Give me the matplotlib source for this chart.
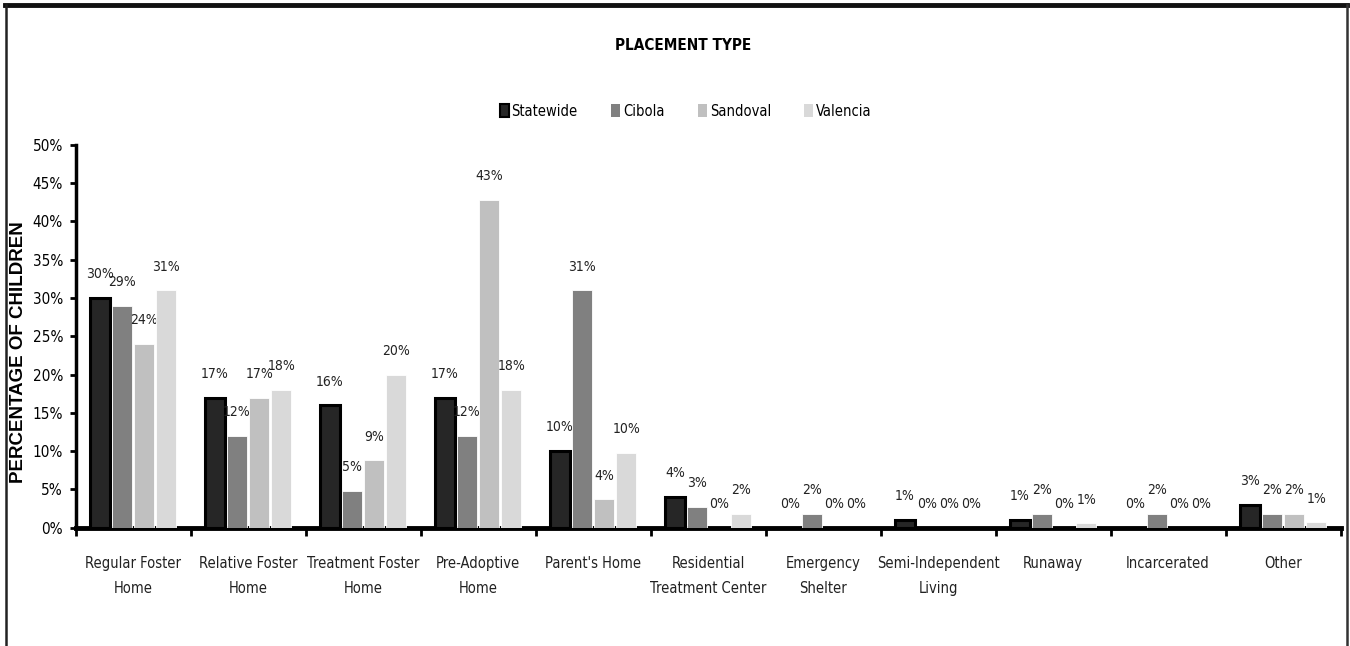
import numpy as np
import matplotlib
matplotlib.use('Agg')
import matplotlib.pyplot as plt
from matplotlib.lines import Line2D
from matplotlib.patches import Patch

plt.rcParams['font.family'] = ['DejaVu Sans']
plt.rcParams['font.stretch'] = 'condensed'

# 数据
categories = ['Regular Foster\nHome', 'Relative Foster\nHome', 'Treatment Foster\nHome',
              'Pre-Adoptive\nHome', "Parent's Home", 'Residential\nTreatment Center',
              'Emergency\nShelter', 'Semi-Independent\nLiving', 'Runaway',
              'Incarcerated', 'Other']
series = ['Statewide', 'Cibola', 'Sandoval', 'Valencia']
statewide = [30, 17, 16, 17, 10, 4, 0, 1, 1, 0, 3]
cibola = [29, 12, 4.8, 12, 31, 2.7, 1.8, 0, 1.8, 1.8, 1.8]
sandoval = [24, 17, 8.8, 42.8, 3.7, 0, 0, 0, 0, 0, 1.8]
valencia = [31, 18, 20, 18, 9.8, 1.8, 0, 0, 0.6, 0, 0.7]
labels = [
    ['30%', '17%', '16%', '17%', '10%', '4%', '0%', '1%', '1%', '0%', '3%'],
    ['29%', '12%', '5%', '12%', '31%', '3%', '2%', '0%', '2%', '2%', '2%'],
    ['24%', '17%', '9%', '43%', '4%', '0%', '0%', '0%', '0%', '0%', '2%'],
    ['31%', '18%', '20%', '18%', '10%', '2%', '0%', '0%', '1%', '0%', '1%'],
]
colors = ['#262626', '#808080', '#c0c0c0', '#d9d9d9']

fig = plt.figure(figsize=(13.5, 6.46), dpi=100)
ax = fig.add_axes([0.056, 0.183, 0.937, 0.593])

x = np.arange(len(categories))
w = 0.172
step = 0.193
data = [statewide, cibola, sandoval, valencia]
for i, vals in enumerate(data):
    pos = x + (i - 1.5) * step
    if i == 0:
        bars = ax.bar(pos, vals, w, color=colors[i], edgecolor='black', linewidth=2.2, zorder=3)
    else:
        bars = ax.bar(pos, vals, w, color=colors[i], edgecolor='white', linewidth=0.6, zorder=3)
    for b, lab in zip(bars, labels[i]):
        ax.annotate(lab, (b.get_x() + b.get_width() / 2, b.get_height()),
                    xytext=(0, 12), textcoords='offset points',
                    ha='center', va='bottom', fontsize=10, color='#222222')

ax.set_xlim(-0.5, len(categories) - 0.5)
ax.set_ylim(0, 50)
ax.set_yticks(np.arange(0, 51, 5))
ax.set_yticklabels([f'{v}%' for v in range(0, 51, 5)], fontsize=11)
ax.set_xticks(x)
ax.set_xticklabels(categories, fontsize=10.5, linespacing=1.9, color='#222222')
ax.set_xticks(np.arange(-0.5, len(categories), 1), minor=True)
ax.tick_params(axis='x', which='major', length=0, pad=20)
ax.tick_params(axis='x', which='minor', length=6, width=2, direction='out')
ax.tick_params(axis='y', length=4, width=2, direction='out', pad=5)

for s in ['top', 'right']:
    ax.spines[s].set_visible(False)
ax.spines['left'].set_linewidth(2.5)
ax.spines['bottom'].set_linewidth(3.5)

fig.text(0.0135, 0.455, 'PERCENTAGE OF CHILDREN', rotation=90, ha='center', va='center',
         fontsize=13.5, fontweight='bold', family=['Liberation Sans', 'DejaVu Sans'],
         fontstretch='normal')

fig.text(0.506, 0.93, 'PLACEMENT TYPE', ha='center', va='center',
         fontsize=11, fontweight='bold')

handles = [Patch(facecolor=c, edgecolor='black' if i == 0 else c, linewidth=1.5 if i == 0 else 0)
           for i, c in enumerate(colors)]
fig.legend(handles, series, loc='center', bbox_to_anchor=(0.508, 0.828), ncol=4,
           frameon=False, fontsize=10.5, handlelength=0.6, handleheight=1.0,
           handletextpad=0.2, columnspacing=2.3)

# 外框
fig.add_artist(Line2D([0.004, 0.998], [0.992, 0.992], color='#111111', linewidth=3.5))
fig.add_artist(Line2D([0.0048, 0.0048], [0.0, 0.992], color='#222222', linewidth=1.8))
fig.add_artist(Line2D([0.9975, 0.9975], [0.0, 0.992], color='#333333', linewidth=1.8))

fig.savefig('out.png', dpi=100)
